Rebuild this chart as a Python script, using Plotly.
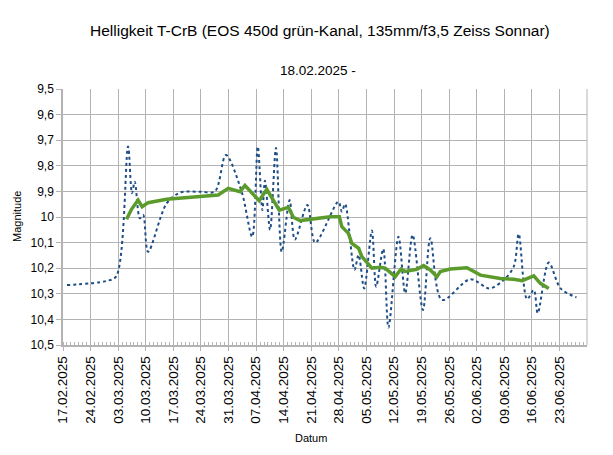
import plotly.graph_objects as go

# Raw brightness measurements (blue dotted line)
raw_dates = [
    "2025-02-18", "2025-02-28", "2025-03-02 12:00", "2025-03-05 12:00", "2025-03-06 12:00",
    "2025-03-07 05:00", "2025-03-08 12:00", "2025-03-09 08:00", "2025-03-10 14:00",
    "2025-03-15 07:00", "2025-03-18 16:00", "2025-03-23 18:00", "2025-03-27 13:00",
    "2025-03-30 08:00", "2025-04-03 08:00", "2025-04-06", "2025-04-07 10:00",
    "2025-04-08 14:00", "2025-04-09 06:00", "2025-04-10 13:00", "2025-04-12 01:00",
    "2025-04-13 12:00", "2025-04-15 12:00", "2025-04-16 20:00", "2025-04-20",
    "2025-04-22", "2025-04-27 21:00", "2025-04-28 18:00", "2025-04-29 14:00",
    "2025-05-01 23:00", "2025-05-03", "2025-05-04 10:00", "2025-05-06 09:00",
    "2025-05-07 11:00", "2025-05-09 06:00", "2025-05-10 14:00", "2025-05-13 03:00",
    "2025-05-14 20:00", "2025-05-16 17:00", "2025-05-19 08:00", "2025-05-21 05:00",
    "2025-05-24 04:00", "2025-05-31 08:00", "2025-06-05 05:00", "2025-06-08 19:00",
    "2025-06-11 09:00", "2025-06-12 15:00", "2025-06-14 18:00", "2025-06-16 11:00",
    "2025-06-17 11:00", "2025-06-20 06:00", "2025-06-23 06:00", "2025-06-27 07:00",
]
raw_mag = [
    10.266, 10.25, 10.232, 9.725, 9.907,
    9.862, 10.005, 9.992, 10.136,
    9.947, 9.905, 9.901, 9.900,
    9.758, 9.901, 10.077, 9.725,
    9.973, 9.858, 10.05, 9.730,
    10.136, 9.934, 10.088, 9.953,
    10.100, 9.940, 9.979, 9.949,
    10.207, 10.148, 10.279, 10.053,
    10.272, 10.125, 10.432, 10.077,
    10.298, 10.070, 10.363, 10.083,
    10.324, 10.243, 10.279, 10.246,
    10.194, 10.066, 10.321, 10.285,
    10.376, 10.178, 10.279, 10.314,
]

# Moving average (green line)
avg_dates = [
    "2025-03-05 03:00", "2025-03-06 09:00", "2025-03-08 01:00", "2025-03-09 02:00",
    "2025-03-10 14:00", "2025-03-15 07:00", "2025-03-23 18:00", "2025-03-28 09:00",
    "2025-03-30 22:00", "2025-04-02 22:00", "2025-04-04 04:00", "2025-04-07 19:00",
    "2025-04-09 17:00", "2025-04-12 21:00", "2025-04-15 04:00", "2025-04-16 11:00",
    "2025-04-18 04:00", "2025-04-20 17:00", "2025-04-25 19:00", "2025-04-28 03:00",
    "2025-04-28 18:00", "2025-04-30 10:00", "2025-05-01 07:00", "2025-05-03",
    "2025-05-03 20:00", "2025-05-06 09:00", "2025-05-08 12:00", "2025-05-09 18:00",
    "2025-05-12 07:00", "2025-05-13 18:00", "2025-05-14 20:00", "2025-05-17 19:00",
    "2025-05-19 12:00", "2025-05-21 05:00", "2025-05-22 21:00", "2025-05-23 18:00",
    "2025-05-26 06:00", "2025-05-30 12:00", "2025-06-02 22:00", "2025-06-07 23:00",
    "2025-06-11 09:00", "2025-06-13 12:00", "2025-06-16 11:00", "2025-06-18 03:00",
    "2025-06-20 06:00",
]
avg_mag = [
    10.009, 9.970, 9.934, 9.960,
    9.944, 9.931, 9.920, 9.914,
    9.888, 9.901, 9.877, 9.936,
    9.892, 9.973, 9.962, 10.001,
    10.014, 10.009, 9.999, 9.999,
    10.038, 10.064, 10.103, 10.122,
    10.155, 10.200, 10.196, 10.200,
    10.233, 10.204, 10.213, 10.204,
    10.190, 10.207, 10.233, 10.213,
    10.203, 10.198, 10.227, 10.240,
    10.243, 10.249, 10.230, 10.259,
    10.279,
]

y_tickvals = [9.5, 9.6, 9.7, 9.8, 9.9, 10.0, 10.1, 10.2, 10.3, 10.4, 10.5]
y_ticktext = ["9,5", "9,6", "9,7", "9,8", "9,9", "10", "10,1", "10,2", "10,3", "10,4", "10,5"]

title_text = "Helligkeit T-CrB (EOS 450d grün-Kanal, 135mm/f3,5 Zeiss Sonnar)"
subtitle_text = "18.02.2025 -"

FONT = "Liberation Sans, Arial, sans-serif"
GRID = "#b3b3b3"

W, H = 613, 455
ML, MR, MT, MB = 63, 26, 89, 110
pw = W - ML - MR
ph = H - MT - MB


def px(x):
    return (x - ML) / pw


def py(y):
    return (H - MB - y) / ph


fig = go.Figure()
fig.add_trace(go.Scatter(
    x=raw_dates, y=raw_mag, mode="lines",
    line=dict(color="#1f4e86", width=2, dash="dot", shape="spline", smoothing=0.9),
    showlegend=False,
))
fig.add_trace(go.Scatter(
    x=avg_dates, y=avg_mag, mode="lines",
    line=dict(color="#5b9b2b", width=3.5),
    showlegend=False,
))

fig.update_layout(
    width=W, height=H,
    margin=dict(l=ML, r=MR, t=MT, b=MB),
    paper_bgcolor="white", plot_bgcolor="white",
    font=dict(family=FONT, color="#000000"),
)

fig.add_annotation(text=title_text, xref="paper", yref="paper", x=px(320), y=py(30),
                   xanchor="center", yanchor="middle", showarrow=False,
                   font=dict(size=15.5, family=FONT))
fig.add_annotation(text=subtitle_text, xref="paper", yref="paper", x=px(318), y=py(70),
                   xanchor="center", yanchor="middle", showarrow=False,
                   font=dict(size=13.5, family=FONT))
fig.add_annotation(text="Magnitude", textangle=-90, xref="paper", yref="paper",
                   x=px(17), y=py(217), xanchor="center", yanchor="middle",
                   showarrow=False, font=dict(size=11, family=FONT))
fig.add_annotation(text="Datum", xref="paper", yref="paper",
                   x=px(311), y=py(438), xanchor="center", yanchor="middle",
                   showarrow=False, font=dict(size=11, family=FONT))

fig.update_xaxes(
    type="date", range=["2025-02-17", "2025-06-29 23:00"],
    tick0="2025-02-17", dtick=7 * 86400000, tickformat="%d.%m.%Y",
    tickangle=-90, tickfont=dict(size=13.5, family=FONT),
    showgrid=True, gridcolor=GRID, gridwidth=1,
    showline=True, linecolor=GRID, linewidth=1.5,
    ticks="outside", ticklen=4, tickcolor=GRID,
    minor=dict(dtick=86400000, ticks="inside", ticklen=3, tickcolor=GRID, showgrid=False),
    zeroline=False,
)
fig.update_yaxes(
    range=[10.5, 9.5], tickvals=y_tickvals, ticktext=y_ticktext,
    tickfont=dict(size=12, family=FONT),
    showgrid=True, gridcolor=GRID, gridwidth=1,
    showline=True, linecolor=GRID, linewidth=1.5,
    ticks="outside", ticklen=5, tickcolor=GRID,
    zeroline=False,
)
# right border line (last weekly gridline, 30.06.2025)
fig.add_shape(type="line", xref="paper", yref="paper", x0=1, x1=1, y0=0, y1=1,
              line=dict(color=GRID, width=1))

fig.write_html("out.html")
